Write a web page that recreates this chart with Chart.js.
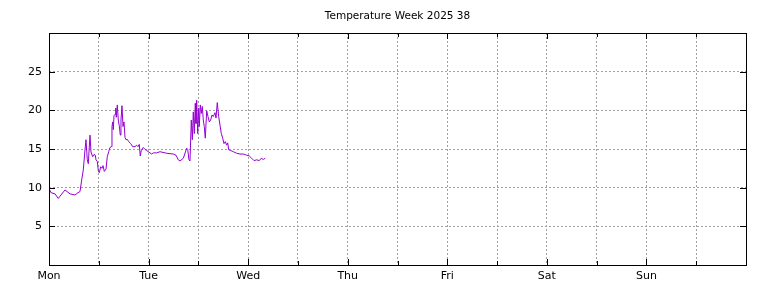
<!DOCTYPE html>
<html>
<head>
<meta charset="utf-8">
<script src="https://cdn.jsdelivr.net/npm/chart.js@4"></script>
<style>
  html, body { margin: 0; padding: 0; background: #fff; }
  #wrap { width: 768px; height: 288px; }
</style>
</head>
<body>
<div id="wrap"><canvas id="myChart" width="768" height="288"></canvas></div>
<script>
const ctx = document.getElementById('myChart');

// hours since Monday 00:00
const hours = [0, 0.48, 1.45, 2.24, 2.65, 3.86, 4.1, 5.06, 6.27, 6.99, 7.47, 7.88, 8.27, 8.68, 8.92, 9.23, 9.47, 9.88,
  10.12, 10.53, 10.85, 11.16, 11.33, 11.64, 11.88, 12.12, 12.46, 12.77, 13.02, 13.33, 13.74, 14.05, 14.39, 14.7,
  15.02, 15.18, 15.35, 15.5, 15.67, 15.91, 16.08, 16.22, 16.46, 16.7, 16.94, 17.18, 17.35, 17.59, 17.84, 18.08,
  18.32, 18.56, 18.87, 19.21, 19.69, 20.17, 20.73, 21.14, 21.45, 21.76, 22.0, 22.25, 22.73, 23.14, 23.55, 23.93,
  24.34, 24.75, 25.14, 25.96, 26.75, 28.37, 29.96, 30.61, 31.16, 31.57, 32.37, 33.19, 33.43, 33.74, 33.98,
  34.3, 34.54, 34.78, 35.02, 35.26, 35.43, 35.6, 35.84, 36.08, 36.23, 36.47, 36.71, 36.95, 37.19, 37.43, 37.67,
  38.01, 38.32, 38.64, 38.97, 39.29, 39.6, 40.01, 40.25, 40.56, 40.9, 41.21, 41.53, 41.87, 42.18, 42.49, 42.83,
  43.07, 43.31, 43.79, 44.42, 45.24, 46.04, 46.83, 47.65, 48.28, 48.85, 49.41, 50.06, 50.69, 51.17, 51.65, 52.13];

const temps = [9.9, 9.35, 9.2, 8.6, 8.9, 9.7, 9.6, 9.2, 9.05, 9.35, 9.5, 11.0, 12.3, 14.9, 16.2, 13.6, 13.1, 16.8,
  14.6, 14.0, 14.3, 14.2, 13.6, 13.4, 12.2, 11.95, 12.7, 12.5, 12.85, 12.1, 12.4, 14.0, 14.65, 15.2,
  15.3, 17.9, 18.5, 17.5, 19.3, 19.5, 20.3, 19.1, 20.7, 18.75, 18.0, 16.8, 18.75, 20.6, 17.9, 18.5,
  16.5, 16.2, 16.25, 15.95, 15.7, 15.3, 15.3, 15.5, 15.3, 15.6, 14.1, 14.8, 15.2, 14.95, 14.8, 14.65,
  14.5, 14.35, 14.5, 14.5, 14.65, 14.45, 14.35, 14.2, 13.6, 13.45, 13.8, 15.1, 14.95, 13.6, 13.45,
  18.75, 16.2, 19.8, 17.0, 20.9, 18.3, 21.3, 17.0, 20.3, 17.9, 20.7, 19.6, 20.5, 18.75, 17.9, 16.4,
  19.95, 19.2, 18.5, 18.75, 19.4, 19.2, 19.7, 19.0, 21.0, 19.2, 18.1, 17.0, 16.4, 15.7, 15.95, 15.5,
  15.8, 14.9, 14.8, 14.65, 14.45, 14.35, 14.35, 14.2, 14.1, 13.8, 13.5, 13.6, 13.5, 13.8, 13.65, 13.8];

const days = ['Mon', 'Tue', 'Wed', 'Thu', 'Fri', 'Sat', 'Sun'];
const yTicks = [5, 10, 15, 20, 25];

const points = [];
for (let i = 0; i < hours.length; i++) {
  points.push({ x: hours[i], y: temps[i] });
}

const font = { family: 'DejaVu Sans', size: 11 };
const gridColor = (c) => {
  const v = c.tick.value;
  return (v === 0 || v === 168 || v === 30) ? 'rgba(0,0,0,0)' : '#a0a0a0';
};

// frame + inward tick marks like gnuplot
const framePlugin = {
  id: 'frame',
  afterDraw(chart) {
    const a = chart.chartArea;
    const c = chart.ctx;
    const xs = chart.scales.x, ys = chart.scales.y;
    c.save();
    c.strokeStyle = '#000';
    c.lineWidth = 1;
    c.beginPath();
    for (let h = 12; h < 168; h += 12) {
      const px = Math.round(xs.getPixelForValue(h)) + 0.5;
      const len = h % 24 === 0 ? 6 : 4;
      c.moveTo(px, a.top); c.lineTo(px, a.top + len);
      c.moveTo(px, a.bottom); c.lineTo(px, a.bottom - len);
    }
    yTicks.forEach(v => {
      const py = Math.round(ys.getPixelForValue(v)) + 0.5;
      c.moveTo(a.left, py); c.lineTo(a.left + 6, py);
      c.moveTo(a.right, py); c.lineTo(a.right - 6, py);
    });
    c.stroke();
    c.strokeRect(Math.round(a.left) + 0.5, Math.round(a.top) + 0.5,
      Math.round(a.right - a.left), Math.round(a.bottom - a.top));
    c.restore();
  }
};

let cc = new Chart(ctx, {
  type: 'line',
  data: {
    datasets: [{
      label: 'Temperature',
      data: points,
      borderColor: '#9400d3',
      borderWidth: 1,
      pointRadius: 0,
      tension: 0,
      fill: false
    }]
  },
  options: {
    responsive: false,
    animation: false,
    layout: { padding: { left: 0, right: 22, top: 0, bottom: 0 } },
    plugins: {
      legend: { display: false },
      tooltip: { enabled: false },
      title: {
        display: true,
        fullSize: false,
        text: 'Temperature Week 2025 38',
        color: '#000',
        font: { family: 'DejaVu Sans', size: 10.5, weight: 'normal' },
        padding: { top: 10, bottom: 10.4 }
      }
    },
    scales: {
      x: {
        type: 'linear',
        min: 0,
        max: 168,
        afterBuildTicks: (s) => {
          s.ticks = [];
          for (let h = 0; h <= 168; h += 12) s.ticks.push({ value: h });
        },
        afterFit: (s) => { s.height = 23; },
        ticks: {
          autoSkip: false,
          maxRotation: 0,
          color: '#000',
          font: font,
          padding: 5,
          callback: (v) => (v % 24 === 0 && v < 168) ? days[v / 24] : ''
        },
        grid: { color: gridColor, drawTicks: false, lineWidth: 1 },
        border: { display: false, dash: [2, 2] }
      },
      y: {
        min: 0,
        max: 30,
        afterBuildTicks: (s) => {
          s.ticks = [{ value: 0 }].concat(yTicks.map(v => ({ value: v })), [{ value: 30 }]);
        },
        afterFit: (s) => { s.width = 49; },
        ticks: {
          color: '#000',
          font: font,
          padding: 7,
          callback: (v) => yTicks.includes(v) ? String(v) : ''
        },
        grid: { color: gridColor, drawTicks: false, lineWidth: 1 },
        border: { display: false, dash: [2, 2] }
      }
    }
  },
  plugins: [framePlugin]
});
</script>
</body>
</html>
